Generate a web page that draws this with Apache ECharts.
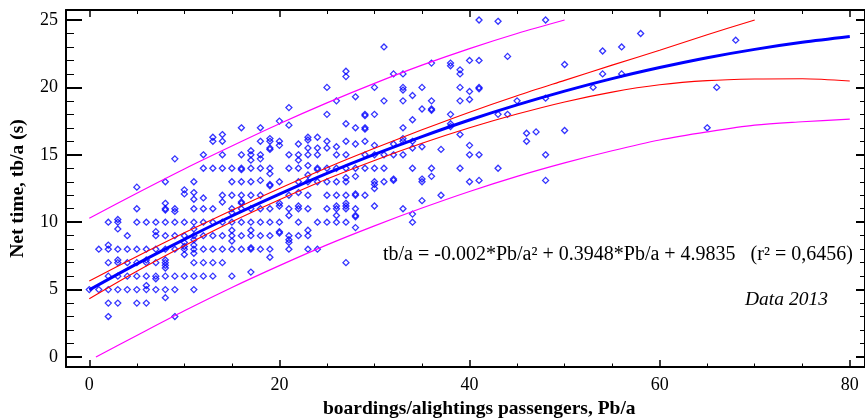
<!DOCTYPE html>
<html>
<head>
<meta charset="utf-8">
<script src="https://cdn.jsdelivr.net/npm/echarts@6/dist/echarts.min.js"></script>
<style>
  html, body { margin: 0; padding: 0; background: #ffffff; }
  #chart { width: 865px; height: 420px; }
</style>
</head>
<body>
<div id="chart"></div>
<script>
// Observed net dwell time per stop vs. boarding/alighting passengers (2013)
const observations = [
  [0,5],
  [1,8],[1,5],
  [2,10],[2,8.3],[2,8],[2,7],[2,6],[2,5],[2,4],[2,3],
  [3,10.2],[3,10],[3,9.5],[3,8],[3,7.2],[3,7],[3,6],[3,5],[3,4],
  [4,9],[4,8],[4,7],[4,6],[4,5],
  [5,12.6],[5,11],[5,10],[5,8],[5,7],[5,6],[5,5],[5,4],
  [6,10],[6,8],[6,7.2],[6,7],[6,6],[6,5.3],[6,5],[6,4],
  [7,10],[7,9.3],[7,9],[7,8],[7,7],[7,6],[7,5.8],[7,5],
  [8,13],[8,11.4],[8,11],[8,10.9],[8,10],[8,9],[8,8],[8,7.2],[8,7],[8,6.8],[8,6.6],[8,6],[8,5],[8,4.4],
  [9,14.7],[9,11],[9,10.8],[9,10],[9,9],[9,8],[9,6],[9,5],[9,3],
  [10,12.4],[10,12.1],[10,10],[10,9],[10,8.5],[10,8.2],[10,8],[10,7.6],[10,6],
  [11,13],[11,12.2],[11,11.7],[11,11],[11,10],[11,9.5],[11,9],[11,8.7],[11,8.3],[11,8],[11,7.7],[11,7],[11,6],[11,5],
  [12,15],[12,14],[12,11.8],[12,11],[12,10],[12,9],[12,8],[12,7],[12,6],
  [13,16.3],[13,16],[13,14],[13,11],[13,10],[13,9],[13,8],[13,7],[13,6],
  [14,16.5],[14,16],[14,15],[14,14],[14,12],[14,11.5],[14,10],[14,9],[14,8],[14,7],
  [15,14],[15,13],[15,12],[15,11],[15,10.7],[15,10],[15,9.4],[15,9],[15,8.6],[15,8],[15,6],
  [16,17],[16,15],[16,14],[16,13.9],[16,13],[16,12],[16,11.5],[16,11.4],[16,11],[16,10],[16,9],[16,8],
  [17,15.3],[17,15],[17,14.6],[17,14],[17,13],[17,12],[17,11],[17,10],[17,9.4],[17,9],[17,8.1],[17,8],[17,6.3],
  [18,17],[18,16],[18,15],[18,14.7],[18,14],[18,13.1],[18,12],[18,11],[18,10],[18,9],[18,8],
  [19,16.2],[19,16],[19,15.5],[19,15.4],[19,14],[19,13.6],[19,12.8],[19,12.7],[19,11],[19,10],[19,9],[19,8],[19,7.4],
  [20,17.5],[20,16],[20,15.7],[20,13],[20,11.4],[20,11.2],[20,10],[20,9.3],[20,9.2],
  [21,18.5],[21,17.2],[21,15],[21,14],[21,12],[21,11],[21,10.5],[21,9],[21,8.7],[21,8.5],[21,8],
  [22,15.8],[22,15],[22,14.6],[22,14],[22,13],[22,12.2],[22,11.2],[22,11],[22,10],[22,9],
  [23,16.3],[23,16.1],[23,15.5],[23,15],[23,14.2],[23,13.5],[23,13],[23,12],[23,11],[23,9.4],[23,9],[23,8],
  [24,16.3],[24,15.5],[24,15],[24,14],[24,13.9],[24,13],[24,10],[24,8],
  [25,20],[25,18],[25,16],[25,15.5],[25,14],[25,13],[25,12],[25,11],[25,10],
  [26,19],[26,15.6],[26,15],[26,14],[26,13],[26,12],[26,11.2],[26,11],[26,10.5],[26,10],
  [27,21.2],[27,20.8],[27,17.3],[27,16],[27,15],[27,14],[27,13.3],[27,13],[27,12],[27,11.4],[27,11.2],[27,11],[27,10],[27,7],
  [28,19.3],[28,17],[28,15.8],[28,14],[28,13.4],[28,12.1],[28,12],[28,11],[28,10.5],[28,10.4],[28,9.6],
  [29,18],[29,17.9],[29,17],[29,16.9],[29,16],[29,15],[29,14],[29,12],
  [30,20],[30,18],[30,15.7],[30,15],[30,14],[30,13],[30,12.8],[30,12.5],[30,11.2],
  [31,23],[31,19],[31,15],[31,14],[31,13],
  [32,21],[32,15.8],[32,15],[32,13.2],[32,13.1],
  [33,21],[33,20],[33,19.8],[33,19],[33,17],[33,16.2],[33,16],[33,15],[33,11],
  [34,19.4],[34,17.6],[34,16],[34,15.5],[34,14],[34,10.6],[34,10],
  [35,20],[35,18.4],[35,15.6],[35,13.2],[35,13],[35,11.6],
  [36,21.8],[36,19],[36,18.4],[36,18.3],[36,14],[36,13.4],
  [37,15.4],[37,12],
  [38,21.8],[38,21.6],[38,18],[38,17.3],[38,17.1],
  [39,21.3],[39,21],[39,20],[39,19],[39,16.5],[39,14],
  [40,22],[40,19.7],[40,19.1],[40,15.7],[40,15],[40,13],
  [41,25],[41,22],[41,20],[41,19.9],[41,15],[41,13.1],
  [43,24.9],[43,18],[43,14],
  [44,22.3],[44,18],
  [45,19],
  [46,16.6],[46,16],
  [47,16.7],
  [48,25],[48,19.2],[48,15],[48,13.1],
  [50,21.7],[50,16.8],
  [53,20],
  [54,22.7],[54,21],
  [56,23],[56,21],
  [58,24],
  [65,17],
  [66,20],
  [68,23.5]
];

// Quadratic fit tb/a = -0.002*Pb/a^2 + 0.3948*Pb/a + 4.9835, tabulated every 5 passengers
const curveX = [0, 5, 10, 15, 20, 25, 30, 35, 40, 45, 50, 55, 60, 65, 70, 75, 80];
const fitY   = [4.98, 6.91, 8.73, 10.46, 12.08, 13.62, 15.03, 16.35, 17.58, 18.70, 19.72, 20.65, 21.47, 22.20, 22.82, 23.34, 23.77];

// 95% confidence band of the mean
const confUpperX = [0, 5, 10, 15, 20, 25, 30, 35, 40, 45, 50, 55, 60, 65, 70];
const confUpperY = [5.64, 7.46, 9.21, 10.89, 12.50, 14.04, 15.48, 16.85, 18.16, 19.38, 20.52, 21.65, 22.75, 23.90, 25.0];
const confLowerX = [0, 5, 10, 15, 20, 25, 30, 35, 40, 45, 50, 55, 60, 65, 70, 75, 80];
const confLowerY = [4.32, 6.36, 8.25, 10.03, 11.66, 13.20, 14.58, 15.85, 17.00, 18.02, 18.92, 19.65, 20.19, 20.50, 20.62, 20.64, 20.47];

// 95% prediction band
const predUpperX = [0, 5, 10, 15, 20, 25, 30, 35, 40, 45, 50];
const predUpperY = [10.3, 12.15, 13.95, 15.65, 17.3, 18.85, 20.3, 21.65, 22.88, 24.0, 25.0];
const predLowerX = [0.7, 5, 10, 15, 20, 25, 30, 35, 40, 45, 50, 55, 60, 65, 70, 75, 80];
const predLowerY = [0.0, 1.6, 3.43, 5.16, 6.78, 8.32, 9.73, 11.05, 12.28, 13.4, 14.4, 15.3, 16.1, 16.7, 17.2, 17.45, 17.65];

// Axis ticks
const xMajorTicks = [0, 20, 40, 60, 80];
const xMinorTicks = [5, 10, 15, 25, 30, 35, 45, 50, 55, 65, 70, 75];
const yMajorTicks = [0, 5, 10, 15, 20, 25];
const yMinorTicks = [1, 2, 3, 4, 6, 7, 8, 9, 11, 12, 13, 14, 16, 17, 18, 19, 21, 22, 23, 24];

const equationText = 'tb/a = -0.002*Pb/a\u00B2 + 0.3948*Pb/a + 4.9835   (r\u00B2 = 0,6456)';
const noteText = 'Data 2013';
const xTitle = 'boardings/alightings passengers, Pb/a';
const yTitle = 'Net time, tb/a (s)';

const zip = (xs, ys) => xs.map((x, i) => [x, ys[i]]);

const SERIF = '"Liberation Serif", "Times New Roman", serif';
const X_MIN = -2.45, X_MAX = 81.6;
const Y_MIN = -0.74, Y_MAX = 25.74;

function xAxisDef(position, ticks, len, width, labels, showLine) {
  return {
    type: 'value', gridIndex: 0, position: position, min: X_MIN, max: X_MAX,
    splitLine: { show: false },
    axisLine: { show: showLine, onZero: false, lineStyle: { color: '#000', width: 2 } },
    axisTick: { show: true, inside: true, length: len, customValues: ticks,
                lineStyle: { color: '#000', width: width } },
    axisLabel: labels ? { show: true, customValues: ticks, margin: 9,
                          color: '#000', fontSize: 18, fontFamily: SERIF } : { show: false }
  };
}
function yAxisDef(position, ticks, len, width, labels, showLine, extra) {
  return Object.assign({
    type: 'value', gridIndex: 0, position: position, min: Y_MIN, max: Y_MAX,
    splitLine: { show: false },
    axisLine: { show: showLine, onZero: false, lineStyle: { color: '#000', width: 2 } },
    axisTick: { show: true, inside: true, length: len, customValues: ticks,
                lineStyle: { color: '#000', width: width } },
    axisLabel: labels ? { show: true, customValues: ticks, margin: 8,
                          color: '#000', fontSize: 18, fontFamily: SERIF } : { show: false }
  }, extra || {});
}

const chart = echarts.init(document.getElementById('chart'), null, { renderer: 'canvas' });

chart.setOption({
  animation: false,
  backgroundColor: '#ffffff',
  grid: { left: 66, right: 0, top: 10, bottom: 53, containLabel: false },
  xAxis: [
    xAxisDef('bottom', xMajorTicks, 7, 1.5, true, true),
    xAxisDef('bottom', xMinorTicks, 3.5, 1, false, false),
    xAxisDef('top', xMajorTicks, 7, 1.5, false, true),
    xAxisDef('top', xMinorTicks, 4, 1, false, false)
  ],
  yAxis: [
    yAxisDef('left', yMajorTicks, 16, 2, true, true, {
      name: yTitle, nameLocation: 'middle', nameGap: 38, nameRotate: 90,
      nameTextStyle: { color: '#000', fontSize: 19.5, fontWeight: 'bold', fontFamily: SERIF }
    }),
    yAxisDef('left', yMinorTicks, 8, 1, false, false),
    yAxisDef('right', yMajorTicks, 9, 2, false, true),
    yAxisDef('right', yMinorTicks, 5, 1, false, false)
  ],
  graphic: [
    { type: 'text', left: 383, top: 245,
      style: { text: equationText, fill: '#000', font: '20px ' + SERIF } },
    { type: 'text', left: 745, top: 290,
      style: { text: noteText, fill: '#000', font: 'italic 19.5px ' + SERIF } },
    { type: 'text', left: 323, top: 399,
      style: { text: xTitle, fill: '#000', font: 'bold 19.5px ' + SERIF } }
  ],
  series: [
    {
      name: 'observations', type: 'scatter', xAxisIndex: 0, yAxisIndex: 0,
      data: observations, symbol: 'diamond', symbolSize: 6,
      itemStyle: { color: 'rgba(255,255,255,0)', borderColor: '#0000ff', borderWidth: 1.3 },
      emphasis: { disabled: true }, z: 2
    },
    {
      name: 'prediction upper', type: 'line', data: zip(predUpperX, predUpperY),
      showSymbol: false, smooth: 0.3, lineStyle: { color: '#ff00ff', width: 1.2 }, z: 3
    },
    {
      name: 'prediction lower', type: 'line', data: zip(predLowerX, predLowerY),
      showSymbol: false, smooth: 0.3, lineStyle: { color: '#ff00ff', width: 1.2 }, z: 3
    },
    {
      name: 'confidence upper', type: 'line', data: zip(confUpperX, confUpperY),
      showSymbol: false, smooth: 0.3, lineStyle: { color: '#ff0000', width: 1.1 }, z: 4
    },
    {
      name: 'confidence lower', type: 'line', data: zip(confLowerX, confLowerY),
      showSymbol: false, smooth: 0.3, lineStyle: { color: '#ff0000', width: 1.1 }, z: 4
    },
    {
      name: 'fit', type: 'line', data: zip(curveX, fitY),
      showSymbol: false, smooth: 0.3, lineStyle: { color: '#0000ff', width: 3 }, z: 5
    }
  ]
});
</script>
</body>
</html>
